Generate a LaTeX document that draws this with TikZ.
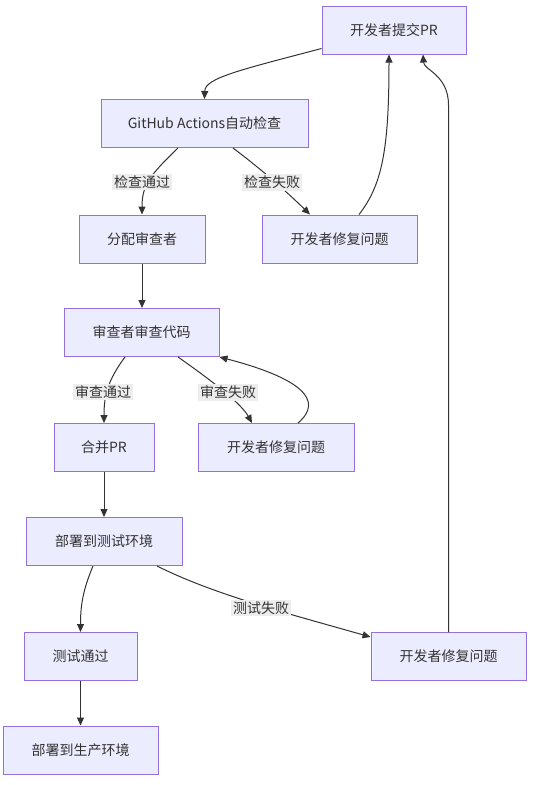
\documentclass[tikz,border=0pt]{standalone}
\usepackage{fontspec}
\setmainfont{Noto Sans CJK SC}
\usetikzlibrary{arrows.meta}

\definecolor{boxfill}{HTML}{ECECFF}
\definecolor{boxline}{HTML}{9370DB}
\definecolor{ink}{HTML}{333333}
\definecolor{tagfill}{HTML}{EDEDED}

\begin{document}
\begin{tikzpicture}[x=1pt,y=-1pt,line width=1pt,
  box/.style={draw=boxline,fill=boxfill,minimum height=48pt,inner sep=0pt,text=ink,font=\fontsize{14}{17}\selectfont},
  flow/.style={draw=ink,-{Triangle[length=8pt,width=7pt]}},
  tag/.style={fill=tagfill,inner sep=2pt,text=ink,font=\fontsize{14}{17}\selectfont}]
\useasboundingbox (0,0) rectangle (533,785);

%first row
\node[box,minimum width=144pt] (submit) at (394,30) {开发者提交PR};

%second row
\node[box,minimum width=207pt] (check) at (204.5,123.5) {GitHub Actions自动检查};

%third row
\node[box,minimum width=126pt] (assign) at (142,239) {分配审查者};
\node[box,minimum width=155pt] (fixcheck) at (339.5,239) {开发者修复问题};

%fourth row
\node[box,minimum width=155pt] (review) at (141.5,332.5) {审查者审查代码};

%fifth row
\node[box,minimum width=100pt] (merge) at (104,447.5) {合并PR};
\node[box,minimum width=156pt] (fixreview) at (276,447.5) {开发者修复问题};

%sixth row
\node[box,minimum width=156pt] (deploytest) at (104,541.5) {部署到测试环境};

%seventh row
\node[box,minimum width=113pt] (testpass) at (80.5,656.5) {测试通过};
\node[box,minimum width=155pt] (fixtest) at (448.5,656.5) {开发者修复问题};

%last row
\node[box,minimum width=155pt] (deployprod) at (80.5,750) {部署到生产环境};

%check loop
\draw[flow] ([yshift=6pt]submit.south west) .. controls (240,70) and (205,78) .. (check.north);
\draw[flow] ([xshift=-26.5pt]check.south) .. controls (150,175) and (142,185) .. (assign.north);
\draw[flow] ([xshift=28.5pt]check.south) .. controls (265,172) and (290,195) .. ([xshift=-29.5pt]fixcheck.north);
\draw[flow] ([xshift=19.5pt]fixcheck.north) .. controls (382,185) and (389,150) .. ([xshift=-5pt]submit.south);
\node[tag] (checkok) at (142,182) {检查通过};
\node[tag] (checkfail) at (272,182) {检查失败};

%review loop
\draw[flow] (assign.south) -- (assign.south |- review.north);
\draw[flow] ([xshift=-16.5pt]review.south) .. controls (108,380) and (104,395) .. (merge.north);
\draw[flow] ([xshift=36.5pt]review.south) .. controls (218,385) and (242,405) .. ([xshift=-24pt]fixreview.north);
\draw[flow] ([xshift=22pt]fixreview.north) .. controls (325,400) and (300,378) .. (review.south east);
\node[tag] (reviewok) at (103,392) {审查通过};
\node[tag] (reviewfail) at (228,392) {审查失败};

%deploy
\draw[flow] (merge.south) -- (deploytest.north);
\draw[flow] ([xshift=-11pt]deploytest.south) .. controls (83,590) and (80.5,605) .. (testpass.north);
\draw[flow] ([xshift=53pt]deploytest.south) .. controls (215,595) and (290,614) .. ([yshift=-5pt]fixtest.north west);
\draw[flow] (fixtest.north) -- (448.5,105) .. controls (448.5,75) and (424,70) .. ([xshift=29pt]submit.south);
\draw[flow] (testpass.south) -- (deployprod.north);
\node[tag] (testfail) at (261,608) {测试失败};

\end{tikzpicture}
\end{document}
